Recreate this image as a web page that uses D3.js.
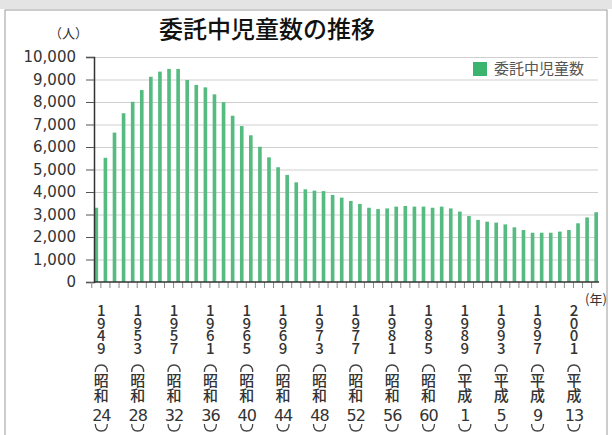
<!DOCTYPE html>
<html>
<head>
<meta charset="utf-8">
<script src="https://cdn.jsdelivr.net/npm/d3@7"></script>
<style>
  body { margin: 0; background: #fff; }
  svg { display: block; }
  text { fill: #333; }
  .vert { writing-mode: vertical-rl; text-orientation: upright; }
</style>
</head>
<body>
<div id="chart"></div>
<script>
// data
const years = d3.range(1949, 2005);
const counts = [
  3300, 5520, 6640, 7500, 8010, 8530, 9120, 9350, 9470, 9470,
  8980, 8760, 8650, 8340, 7990, 7390, 6930, 6520, 6010, 5540,
  5100, 4760, 4430, 4120, 4060, 4040, 3870, 3750, 3600, 3470,
  3300, 3240, 3270, 3350, 3380, 3350, 3350, 3300, 3350, 3270,
  3130, 2930, 2760, 2680, 2640, 2560, 2430, 2310, 2190, 2190,
  2190, 2240, 2310, 2610, 2870, 3100
];
const labelYears = [1949, 1953, 1957, 1961, 1965, 1969, 1973, 1977, 1981, 1985, 1989, 1993, 1997, 2001];
const eraNames = ["昭和", "昭和", "昭和", "昭和", "昭和", "昭和", "昭和", "昭和", "昭和", "昭和", "平成", "平成", "平成", "平成"];
const eraYears = ["24", "28", "32", "36", "40", "44", "48", "52", "56", "60", "1", "5", "9", "13"];
const yTicks = d3.range(0, 10001, 1000);
const seriesName = "委託中児童数";
const title = "委託中児童数の推移";

const width = 612, height = 435;
const green = "#55bb80";
const numFont = "'DejaVu Sans', sans-serif";
const jpFont = "'Noto Sans CJK JP', sans-serif";

const svg = d3.select("#chart").append("svg")
  .attr("width", width)
  .attr("height", height);

// page frame
svg.append("rect").attr("x", 0).attr("y", 0).attr("width", width).attr("height", 9)
  .attr("fill", "#e4e4e4");
svg.append("rect")
  .attr("x", 5).attr("y", 10).attr("width", 602).attr("height", 440)
  .attr("fill", "#fff").attr("stroke", "#9a9a9a").attr("stroke-width", 1);

const x = d3.scaleBand().domain(years).range([94.5, 598]).paddingInner(0.6).paddingOuter(0);
const y = d3.scaleLinear().domain([0, 10000]).range([282, 57]);

// grid
svg.append("g")
  .attr("transform", "translate(94,0)")
  .call(d3.axisLeft(y).tickValues(yTicks.slice(1)).tickSize(-(598 - 94)).tickFormat(""))
  .call(g => g.select(".domain").remove())
  .call(g => g.selectAll(".tick line").attr("stroke", "#cfcfcf"));

// bars
svg.append("g")
  .selectAll("rect")
  .data(years)
  .join("rect")
  .attr("x", d => x(d))
  .attr("y", (d, i) => y(counts[i]))
  .attr("width", x.bandwidth())
  .attr("height", (d, i) => y(0) - y(counts[i]))
  .attr("fill", green);

// y axis
svg.append("g")
  .attr("transform", "translate(94,0)")
  .call(d3.axisLeft(y).tickValues(yTicks).tickSize(8).tickPadding(10).tickFormat(d3.format(",")))
  .call(g => g.select(".domain").attr("stroke", "#333").attr("stroke-width", 1.5))
  .call(g => g.selectAll(".tick line").attr("stroke", "#555"))
  .call(g => g.selectAll(".tick text")
    .attr("font-family", numFont).attr("font-size", 15).attr("fill", "#333"));

// x axis
const xAxis = svg.append("g");
xAxis.selectAll("line.tk")
  .data(years)
  .join("line")
  .attr("class", "tk")
  .attr("x1", d => x(d) + x.bandwidth() / 2 - x.step() / 2)
  .attr("x2", d => x(d) + x.bandwidth() / 2 - x.step() / 2)
  .attr("y1", 282).attr("y2", 288)
  .attr("stroke", "#888");
xAxis.append("line")
  .attr("x1", 94).attr("x2", 599)
  .attr("y1", 282).attr("y2", 282)
  .attr("stroke", "#333").attr("stroke-width", 1.5);

// x labels: one character per text, stacked vertically
const lab = svg.append("g")
  .selectAll("g")
  .data(labelYears)
  .join("g")
  .attr("transform", d => `translate(${x(d) + x.bandwidth() / 2 + 5},0)`);

lab.selectAll("text.yr")
  .data(d => String(d).split(""))
  .join("text")
  .attr("class", "yr vert")
  .attr("x", 0)
  .attr("y", (c, k) => 303 + k * 12.6)
  .attr("font-family", jpFont)
  .attr("font-size", 15).attr("font-weight", 500)
  .attr("letter-spacing", -2.4)
  .text(c => c);

// brackets
lab.append("path")
  .attr("d", "M-6,372 Q-6,365 0,365 Q6,365 6,372")
  .attr("fill", "none").attr("stroke", "#444").attr("stroke-width", 1.3);
lab.append("path")
  .attr("d", "M-6,424 Q-6,431 0,431 Q6,431 6,424")
  .attr("fill", "none").attr("stroke", "#444").attr("stroke-width", 1.3);

lab.selectAll("text.era")
  .data((d, i) => eraNames[i].split(""))
  .join("text")
  .attr("class", "era vert")
  .attr("x", 0)
  .attr("y", (c, k) => 373 + k * 15)
  .attr("font-family", jpFont)
  .attr("font-size", 15).attr("font-weight", 500)
  .text(c => c);

lab.append("text")
  .attr("x", 0).attr("y", 421)
  .attr("text-anchor", "middle")
  .attr("font-family", numFont).attr("font-size", 16)
  .attr("letter-spacing", -1)
  .text((d, i) => eraYears[i]);

svg.append("text")
  .attr("x", 585).attr("y", 304)
  .attr("font-family", jpFont).attr("font-size", 13)
  .text("(年)");

// unit
svg.append("text")
  .attr("x", 49).attr("y", 38)
  .attr("font-family", jpFont).attr("font-size", 13)
  .text("（人）");

// title
svg.append("text")
  .attr("x", 267).attr("y", 38)
  .attr("text-anchor", "middle")
  .attr("font-family", jpFont).attr("font-size", 24).attr("font-weight", 500)
  .style("fill", "#111")
  .text(title);

// legend
svg.append("rect")
  .attr("x", 473).attr("y", 62).attr("width", 14).attr("height", 14)
  .attr("fill", "#3cb46e");
svg.append("text")
  .attr("x", 494).attr("y", 74)
  .attr("font-family", jpFont).attr("font-size", 15)
  .style("fill", "#555")
  .text(seriesName);
</script>
</body>
</html>
